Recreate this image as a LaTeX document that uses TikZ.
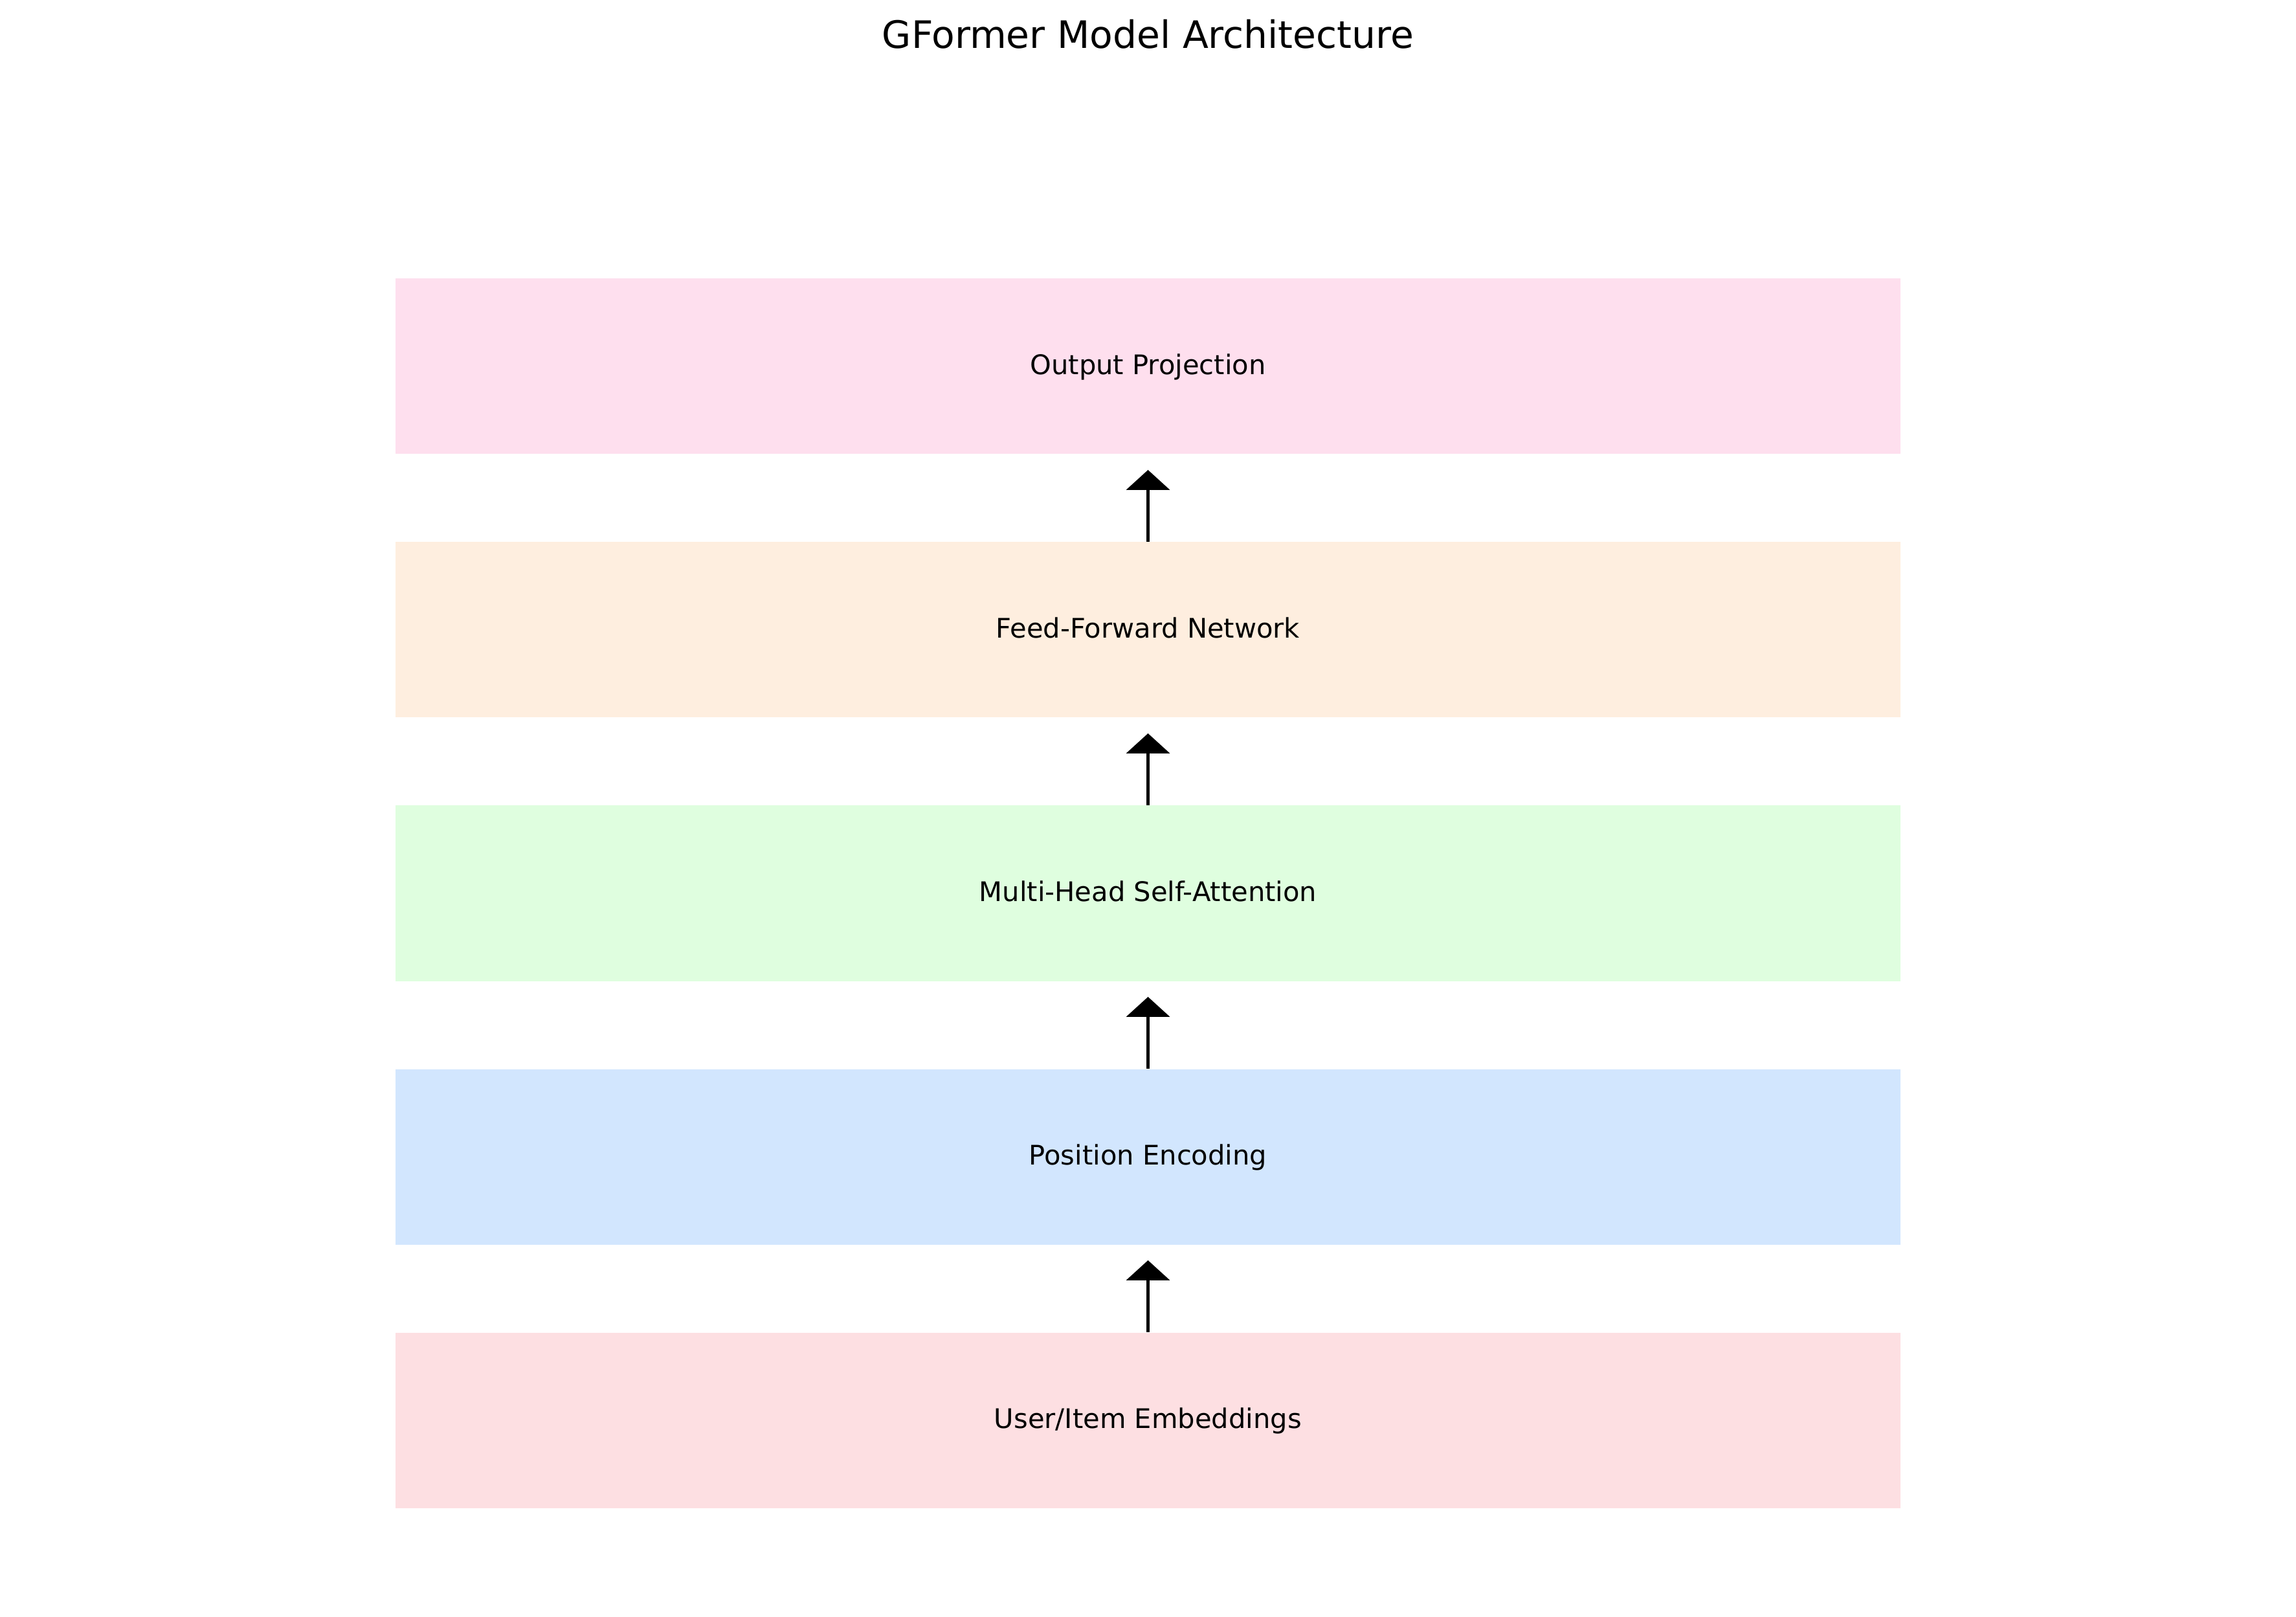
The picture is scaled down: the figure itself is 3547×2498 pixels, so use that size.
\documentclass[tikz,border=0pt]{standalone}
\usepackage{fontspec}
\setmainfont{DejaVu Sans}
\usetikzlibrary{arrows.meta}
\definecolor{cOut}{HTML}{FEDFEE}
\definecolor{cFF}{HTML}{FEEEDF}
\definecolor{cMH}{HTML}{DFFEDF}
\definecolor{cPE}{HTML}{D2E6FE}
\definecolor{cUE}{HTML}{FDDFE2}
\begin{document}
\begin{tikzpicture}[x=0.24pt,y=0.24pt,
  layerbox/.style={draw=none, minimum width=2325*0.24pt, minimum height=271*0.24pt, inner sep=0pt, text height=0.82em, text depth=0.208em, font=\fontsize{10}{12}\selectfont},
  uparrow/.style={line width=1.2pt, -{Triangle[width=16pt,length=7.4pt]}}]
\useasboundingbox (0,0) rectangle (3547,-2498);
\node[anchor=base, font=\fontsize{14}{17}\selectfont] (title) at (1773.5,-75) {GFormer Model Architecture};
\node[layerbox, fill=cOut] (out) at (1773.5,-566) {Output Projection};
\node[layerbox, fill=cFF] (ff) at (1773.5,-973) {Feed-Forward Network};
\node[layerbox, fill=cMH] (mh) at (1773.5,-1380) {Multi-Head Self-Attention};
\node[layerbox, fill=cPE] (pe) at (1773.5,-1787) {Position Encoding};
\node[layerbox, fill=cUE] (ue) at (1773.5,-2194) {User/Item Embeddings};
\coordinate (t1) at (1773.5,-726);
\coordinate (t2) at (1773.5,-1133);
\coordinate (t3) at (1773.5,-1540);
\coordinate (t4) at (1773.5,-1947);
\draw[uparrow] (ff.north) -- (t1);
\draw[uparrow] (mh.north) -- (t2);
\draw[uparrow] (pe.north) -- (t3);
\draw[uparrow] (ue.north) -- (t4);
\end{tikzpicture}
\end{document}
